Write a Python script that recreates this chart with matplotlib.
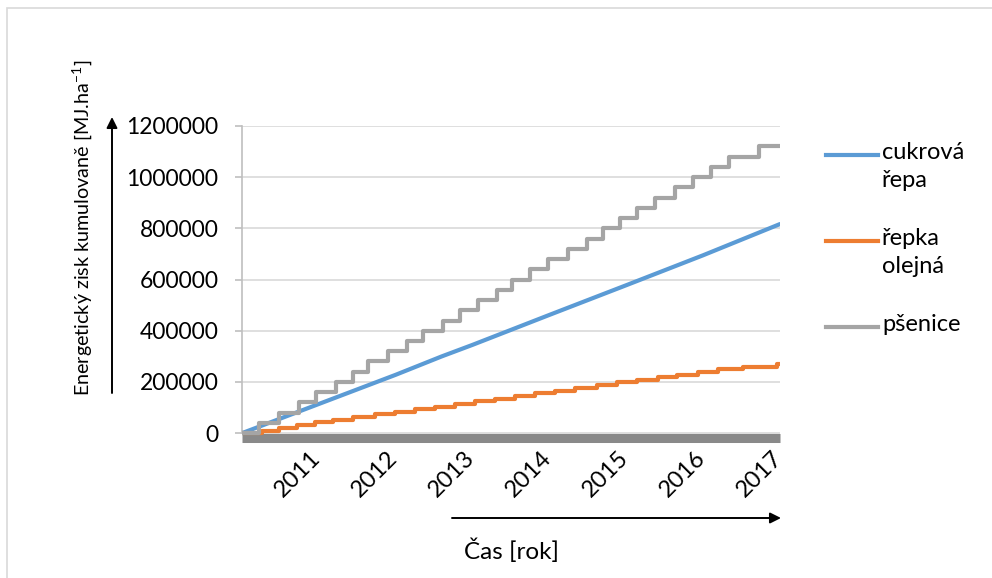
import matplotlib

matplotlib.use("Agg")
import matplotlib.pyplot as plt
import matplotlib.transforms as mtransforms
from matplotlib.lines import Line2D
from matplotlib.patches import Rectangle

# --- data ---
YEARS = [2011, 2012, 2013, 2014, 2015, 2016, 2017]

# cukrová řepa - almost linear cumulative gain
beet_x = [2010.0, 2011.0, 2012.0, 2012.6, 2013.0, 2014.0, 2015.0, 2016.0, 2017.0]
beet_y = [0, 114000, 228000, 300000, 345000, 462000, 578000, 695000, 817000]

# řepka olejná - small steps
rape_x = [2010.26, 2010.48, 2010.72, 2010.95, 2011.18, 2011.44, 2011.73, 2011.99,
          2012.25, 2012.51, 2012.77, 2013.03, 2013.29, 2013.55, 2013.81, 2014.07,
          2014.33, 2014.62, 2014.88, 2015.14, 2015.41, 2015.66, 2015.93, 2016.19,
          2016.52, 2016.96]
rape_y = [10000, 20000, 31000, 42000, 52000, 62000, 73000, 83000,
          94000, 104000, 114000, 125000, 135000, 146000, 156000, 166000,
          177000, 187000, 198000, 208000, 218000, 229000, 239000, 250000,
          260000, 270000]

# pšenice - large steps
wheat_x = [2010.22, 2010.48, 2010.74, 2010.96, 2011.22, 2011.44, 2011.64, 2011.90,
           2012.15, 2012.35, 2012.62, 2012.84, 2013.07, 2013.32, 2013.51, 2013.75,
           2013.98, 2014.24, 2014.49, 2014.70, 2014.92, 2015.14, 2015.37, 2015.63,
           2015.87, 2016.10, 2016.34, 2016.73]
wheat_y = [40000, 80000, 120000, 160000, 200000, 240000, 280000, 320000,
           360000, 400000, 440000, 480000, 520000, 560000, 600000, 640000,
           680000, 720000, 760000, 800000, 840000, 880000, 920000, 960000,
           1000000, 1040000, 1080000, 1120000]

X_START, X_END = 2010.0, 2017.0

SERIES = [
    ("cukrová\nřepa", "#5B9BD5"),
    ("řepka\nolejná", "#ED7D31"),
    ("pšenice", "#A5A5A5"),
]

plt.rcParams.update({
    "font.family": ["Lato", "DejaVu Sans"],
    "font.size": 16.5,
    "mathtext.fontset": "custom",
    "mathtext.rm": "Lato",
    "mathtext.default": "regular",
})

W, H = 992, 578
fig = plt.figure(figsize=(W / 100, H / 100), dpi=100)
ax = fig.add_axes([242 / W, 1 - 437.5 / H, (780 - 242) / W, (437.5 - 126) / H])

# border of the chart area
fig.add_artist(Rectangle((7 / W, -0.05), 1.1, 1 - 8 / H + 0.05, transform=fig.transFigure,
                         fill=False, edgecolor="#D9D9D9", linewidth=1.2))

lw = 3.0
ax.plot(beet_x, beet_y, color=SERIES[0][1], linewidth=lw, solid_capstyle="round", zorder=3)
ax.plot([X_START] + rape_x + [X_END], [0] + rape_y + [rape_y[-1]], drawstyle="steps-post",
        color=SERIES[1][1], linewidth=lw, zorder=3)
ax.plot([X_START] + wheat_x + [X_END], [0] + wheat_y + [wheat_y[-1]], drawstyle="steps-post",
        color=SERIES[2][1], linewidth=lw, zorder=4)

ax.set_xlim(X_START, X_END)
ax.set_ylim(-17000, 1200000)
ax.set_yticks(range(0, 1200001, 200000))
ax.set_yticklabels([str(v) for v in range(0, 1200001, 200000)])
ax.yaxis.grid(True, color="#D9D9D9", linewidth=1.2)
ax.set_axisbelow(True)

ax.set_xticks(YEARS)
ax.set_xticklabels([str(y) for y in YEARS], rotation=45, ha="right", va="top", fontsize=17)
ax.tick_params(axis="x", length=0, pad=7)
ax.tick_params(axis="y", length=5, width=1.2, color="#BFBFBF", pad=12)
shift = mtransforms.ScaledTranslation(6 / 100, 0, fig.dpi_scale_trans)
for lbl in ax.get_xticklabels():
    lbl.set_transform(lbl.get_transform() + shift)

for side in ("top", "right"):
    ax.spines[side].set_visible(False)
ax.spines["left"].set_color("#BFBFBF")
ax.spines["left"].set_linewidth(1.2)
ax.spines["left"].set_bounds(0, 1200000)
ax.spines["bottom"].set_color("#898989")
ax.spines["bottom"].set_linewidth(6.5)
ax.spines["bottom"].set_capstyle("butt")

# axis titles and arrows
fig.text(82 / W, 1 - 228 / H, r"Energetický zisk kumulovaně [MJ.ha$^{-1}$]",
         rotation=90, ha="center", va="center", fontsize=14.2)
fig.text(511 / W, 1 - 551 / H, "Čas [rok]", ha="center", va="center", fontsize=17.5)
arrow = dict(arrowstyle="-|>", color="black", lw=1.4, mutation_scale=16, shrinkA=0, shrinkB=0)
ax.annotate("", xy=(112, H - 117), xytext=(112, H - 393), xycoords="figure pixels",
            textcoords="figure pixels", arrowprops=arrow)
ax.annotate("", xy=(781, H - 518), xytext=(452, H - 518), xycoords="figure pixels",
            textcoords="figure pixels", arrowprops=arrow)

# legend drawn by hand so the handle sits on the first text line
legend_y = [155, 241, 327]
for (label, color), y in zip(SERIES, legend_y):
    fig.add_artist(Line2D([826 / W, 878 / W], [1 - y / H, 1 - y / H], color=color,
                          linewidth=lw, transform=fig.transFigure))
    fig.text(882 / W, 1 - (y - 13) / H, label, ha="left", va="top", linespacing=1.4,
             fontsize=17)

fig.savefig("out.png", dpi=100)
